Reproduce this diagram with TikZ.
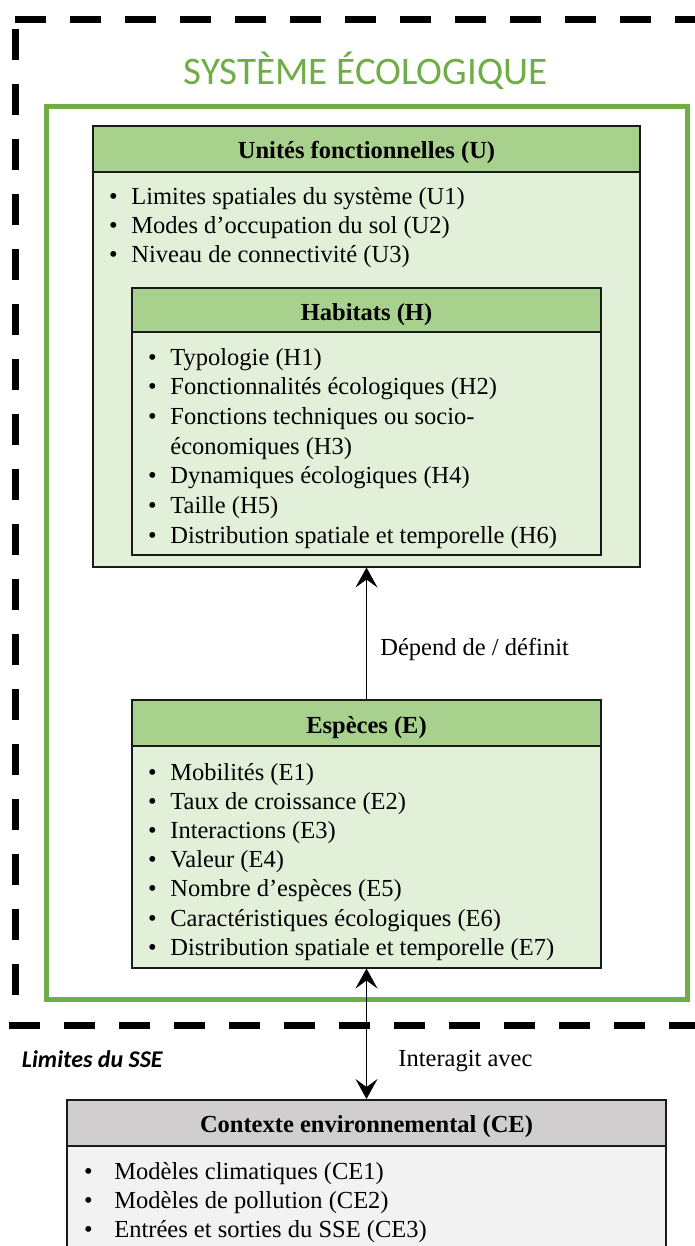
\documentclass[tikz,border=0pt]{standalone}
\usepackage{fontspec}
\setmainfont{Liberation Serif}
\newfontfamily\calibrifont{Carlito}
\usetikzlibrary{arrows.meta, fit}
\definecolor{sysgreen}{HTML}{70AD47}
\definecolor{headfill}{HTML}{A9D18E}
\definecolor{bodyfill}{HTML}{E2F0D9}
\definecolor{ceheadfill}{HTML}{D0CECE}
\definecolor{cebodyfill}{HTML}{F2F2F2}
\definecolor{darkline}{HTML}{1A1A1A}
\tikzset{
  txt/.style={inner sep=0pt, font=\fontsize{12.25}{14.7}\selectfont},
  panel/.style={rectangle, draw=darkline, line width=1pt, inner sep=0pt},
  ghead/.style={panel, fill=headfill},
  gbody/.style={panel, fill=bodyfill},
  cehd/.style={panel, fill=ceheadfill},
  cebd/.style={panel, fill=cebodyfill},
  headtxt/.style={inner sep=0pt, anchor=base, font=\fontsize{12.25}{14.7}\selectfont\bfseries},
  item/.style={txt, anchor=base west, execute at begin node={\llap{\textbullet\hspace{6.85pt}}}},
  ceitem/.style={txt, anchor=base west, execute at begin node={\llap{\textbullet\hspace{10.85pt}}}},
  sysframe/.style={rectangle, draw=sysgreen, line width=2.5pt, inner sep=0pt},
  titletxt/.style={inner sep=0pt, anchor=base, text=sysgreen, font=\calibrifont\fontsize{19.5}{23}\selectfont},
  ssetxt/.style={inner sep=0pt, anchor=base west, font=\calibrifont\fontsize{12}{14}\selectfont\bfseries\itshape},
  limit/.style={line width=3.5pt, dash pattern=on 15.5pt off 12pt},
  dep/.style={-{Stealth[length=10pt, width=11pt, inset=4pt]}, line width=0.65pt, draw=black},
  inter/.style={{Stealth[length=10pt, width=11pt, inset=4pt]}-{Stealth[length=10pt, width=11pt, inset=4pt]}, line width=0.65pt, draw=black},
}

\begin{document}
\begin{tikzpicture}[x=0.5pt, y=-0.5pt]
\useasboundingbox (0,0) rectangle (695,1246);
\clip (0,0) rectangle (695,1246);

% ===== Ecological system =====
\node[sysframe, fit={(46,106.5) (687,999)}] (eco) {};
\node[titletxt] (title) at (365.5,85) {SYSTÈME ÉCOLOGIQUE};

% ===== Functional units =====
\node[gbody, fit={(93,172) (640,566.5)}] (ubody) {};
\node[ghead, fit={(93,126) (640,172)}] (uhead) {};
\node[headtxt] (utitle) at (366.5,159) {Unités fonctionnelles (U)};
\foreach \t [count=\i] in {Limites spatiales du système (U1), Modes d’occupation du sol (U2), Niveau de connectivité (U3)}
  \node[item] (u\i) at (131,{204.5+(\i-1)*29}) {\t};

% ===== Habitats =====
\node[gbody, fit={(132,332) (601,554.5)}] (hbody) {};
\node[ghead, fit={(132,288) (601,332)}] (hhead) {};
\node[headtxt] (htitle) at (366.5,320.5) {Habitats (H)};
\foreach \t/\r in {Typologie (H1)/0, Fonctionnalités écologiques (H2)/1, Fonctions techniques ou socio-/2, Dynamiques écologiques (H4)/4, Taille (H5)/5, Distribution spatiale et temporelle (H6)/6}
  \node[item] (h\r) at (170,{365+\r*29.7}) {\t};
\node[txt, anchor=base west] (h3) at (170,{365+3*29.7}) {économiques (H3)};

% ===== Species =====
\node[gbody, fit={(132,745.5) (601,967.5)}] (ebody) {};
\node[ghead, fit={(132,700) (601,745.5)}] (ehead) {};
\node[headtxt] (etitle) at (366.5,733) {Espèces (E)};
\foreach \t [count=\i] in {Mobilités (E1), Taux de croissance (E2), Interactions (E3), Valeur (E4), Nombre d’espèces (E5), Caractéristiques écologiques (E6), Distribution spatiale et temporelle (E7)}
  \node[item] (e\i) at (170,{780+(\i-1)*29.2}) {\t};

% ===== SSE limits =====
\draw[limit] (15,20) -- (695,20);
\draw[limit] (15.5,29) -- (15.5,996);
\draw[limit] (9,1025.5) -- (695,1025.5);
\node[ssetxt] (sselbl) at (21.5,1067) {Limites du SSE};

% ===== Environmental context =====
\node[cebd, fit={(67,1146) (666,1275)}] (cebody) {};
\node[cehd, fit={(67,1100) (666,1146)}] (cehead) {};
\node[headtxt] (cetitle) at (366.5,1132.5) {Contexte environnemental (CE)};
\foreach \t [count=\i] in {Modèles climatiques (CE1), Modèles de pollution (CE2), Entrées et sorties du SSE (CE3)}
  \node[ceitem] (ce\i) at (114,{1179+(\i-1)*29}) {\t};

% ===== Links =====
\draw[dep] (ehead.north) -- (ubody.south);
\node[txt, anchor=base west] (deplbl) at (380,655) {Dépend de / définit};
\draw[inter] (ebody.south) -- (cehead.north);
\node[txt, anchor=base west] (intlbl) at (398,1066) {Interagit avec};

\end{tikzpicture}
\end{document}
